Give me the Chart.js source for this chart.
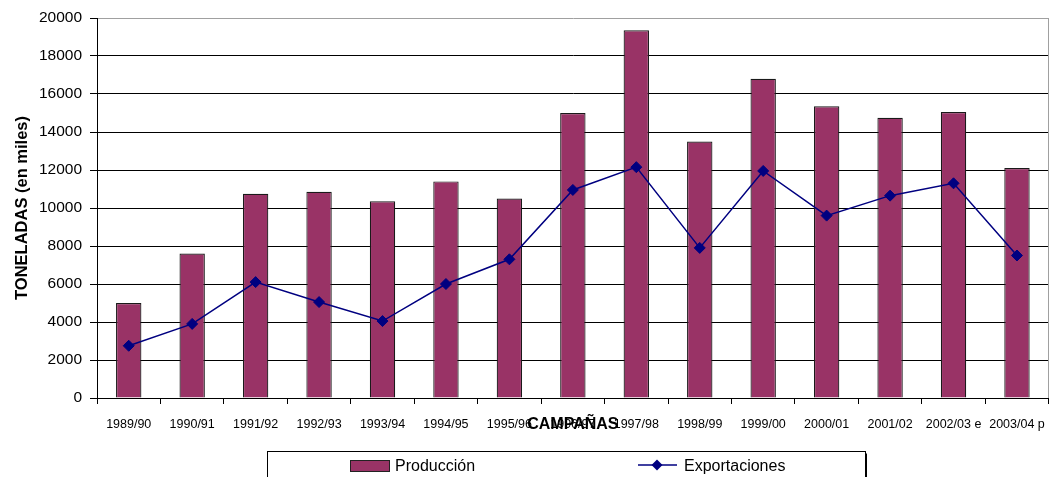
<!DOCTYPE html>
<html>
<head>
<meta charset="utf-8">
<script src="https://cdn.jsdelivr.net/npm/chart.js@4.4.1/dist/chart.umd.min.js"></script>
<style>
  html, body { margin: 0; padding: 0; background: #fff; }
  #wrap { width: 1058px; height: 477px; position: relative; }
</style>
</head>
<body>
<div id="wrap"><canvas id="c"></canvas></div>
<script>
const categories = ['1989/90', '1990/91', '1991/92', '1992/93', '1993/94', '1994/95', '1995/96',
  '1996/97', '1997/98', '1998/99', '1999/00', '2000/01', '2001/02', '2002/03 e', '2003/04 p'];
const produccion = [5000, 7600, 10750, 10850, 10350, 11400, 10500, 15000, 19350, 13500, 16800, 15350, 14750, 15050, 12100];
const exportaciones = [2750, 3900, 6100, 5050, 4050, 6000, 7300, 10950, 12150, 7900, 11950, 9600, 10650, 11300, 7500];
const yTicks = [0, 2000, 4000, 6000, 8000, 10000, 12000, 14000, 16000, 18000, 20000];
const seriesNames = ['Producción', 'Exportaciones'];
const axisTitles = { x: 'CAMPAÑAS', y: 'TONELADAS (en miles)' };

const FONT = "'Liberation Sans', Arial, sans-serif";
const BAR_COLOR = '#993366';
const LINE_COLOR = '#000080';

const frameAndLegend = {
  id: 'frameAndLegend',
  beforeDatasetsDraw(chart) {
    const { ctx, chartArea: a } = chart;
    ctx.save();
    ctx.strokeStyle = '#a0a0a0';
    ctx.lineWidth = 1;
    ctx.beginPath();
    ctx.moveTo(Math.round(a.right) - 0.5, a.top);
    ctx.lineTo(Math.round(a.right) - 0.5, a.bottom);
    ctx.stroke();
    ctx.restore();
  },
  afterDraw(chart) {
    const { ctx } = chart;
    const ds = chart.data.datasets;
    const barDs = ds.find(d => d.type === 'bar');
    const lineDs = ds.find(d => d.type === 'line');
    const box = { left: 267.5, top: 451.5, width: 598, height: 40 };
    ctx.save();
    ctx.strokeStyle = '#000';
    ctx.lineWidth = 1;
    ctx.beginPath();
    ctx.moveTo(box.left + box.width + 1, box.top + 2);
    ctx.lineTo(box.left + box.width + 1, box.top + box.height);
    ctx.stroke();
    ctx.strokeRect(box.left, box.top, box.width, box.height);

    ctx.font = '16px ' + FONT;
    ctx.textBaseline = 'middle';
    ctx.textAlign = 'left';
    const cy = 467;
    ctx.fillStyle = barDs.backgroundColor;
    ctx.fillRect(350, 460, 40, 12);
    ctx.strokeStyle = '#222';
    ctx.strokeRect(350.5, 460.5, 39, 11);
    ctx.fillStyle = '#000';
    ctx.fillText(barDs.label, 395, cy);
    ctx.strokeStyle = lineDs.borderColor;
    ctx.lineWidth = 1.5;
    ctx.beginPath();
    ctx.moveTo(638, 465);
    ctx.lineTo(677, 465);
    ctx.stroke();
    ctx.fillStyle = lineDs.borderColor;
    ctx.beginPath();
    ctx.moveTo(657, 459.5);
    ctx.lineTo(662.5, 465);
    ctx.lineTo(657, 470.5);
    ctx.lineTo(651.5, 465);
    ctx.closePath();
    ctx.fill();
    ctx.fillStyle = '#000';
    ctx.fillText(lineDs.label, 684, cy);
    ctx.restore();
  }
};

new Chart(document.getElementById('c'), {
  type: 'bar',
  data: {
    labels: categories,
    datasets: [
      {
        type: 'line',
        label: seriesNames[1],
        data: exportaciones,
        borderColor: LINE_COLOR,
        backgroundColor: LINE_COLOR,
        borderWidth: 1.5,
        pointStyle: 'rectRot',
        pointRadius: 5.5,
        pointBackgroundColor: LINE_COLOR,
        pointBorderColor: LINE_COLOR,
        pointBorderWidth: 1,
        tension: 0,
        fill: false,
        order: 0
      },
      {
        type: 'bar',
        label: seriesNames[0],
        data: produccion,
        backgroundColor: BAR_COLOR,
        borderColor: '#1a1a1a',
        borderWidth: 1.2,
        barPercentage: 0.4,
        categoryPercentage: 1.0,
        order: 1
      }
    ]
  },
  options: {
    responsive: true,
    maintainAspectRatio: false,
    animation: false,
    devicePixelRatio: 1,
    layout: { padding: { top: 18, right: 1, bottom: 43, left: 0 } },
    plugins: {
      legend: { display: false },
      tooltip: { enabled: false },
      title: { display: false }
    },
    scales: {
      x: {
        offset: true,
        grid: {
          offset: true,
          drawOnChartArea: false,
          drawTicks: true,
          tickLength: 6,
          color: '#000',
          tickColor: '#000'
        },
        border: { display: true, color: '#000', width: 1 },
        ticks: {
          color: '#000',
          font: { family: FONT, size: 12.5 },
          maxRotation: 0,
          minRotation: 0,
          autoSkip: false,
          padding: 13
        },
        title: {
          display: true,
          text: axisTitles.x,
          color: '#000',
          font: { family: FONT, size: 16, weight: 'bold' },
          padding: { top: 0, bottom: 0 }
        },
        afterFit(scale) { scale.height = 36; }
      },
      y: {
        min: 0,
        max: 20000,
        grid: {
          color: (c) => (c.tick && c.tick.value === yTicks[yTicks.length - 1]) ? '#a0a0a0' : '#000',
          tickColor: '#000',
          tickLength: 7,
          lineWidth: 1
        },
        border: { display: true, color: '#000', width: 1 },
        afterBuildTicks(scale) { scale.ticks = yTicks.map(v => ({ value: v })); },
        ticks: {
          color: '#000',
          font: { family: FONT, size: 15.5 },
          padding: 8,
          callback: (v) => String(v)
        },
        title: {
          display: true,
          text: axisTitles.y,
          color: '#000',
          font: { family: FONT, size: 16.5, weight: 'bold' },
          padding: { top: 12.5, bottom: 0 }
        },
        afterFit(scale) { scale.width = 97; }
      }
    }
  },
  plugins: [frameAndLegend]
});
</script>
</body>
</html>
